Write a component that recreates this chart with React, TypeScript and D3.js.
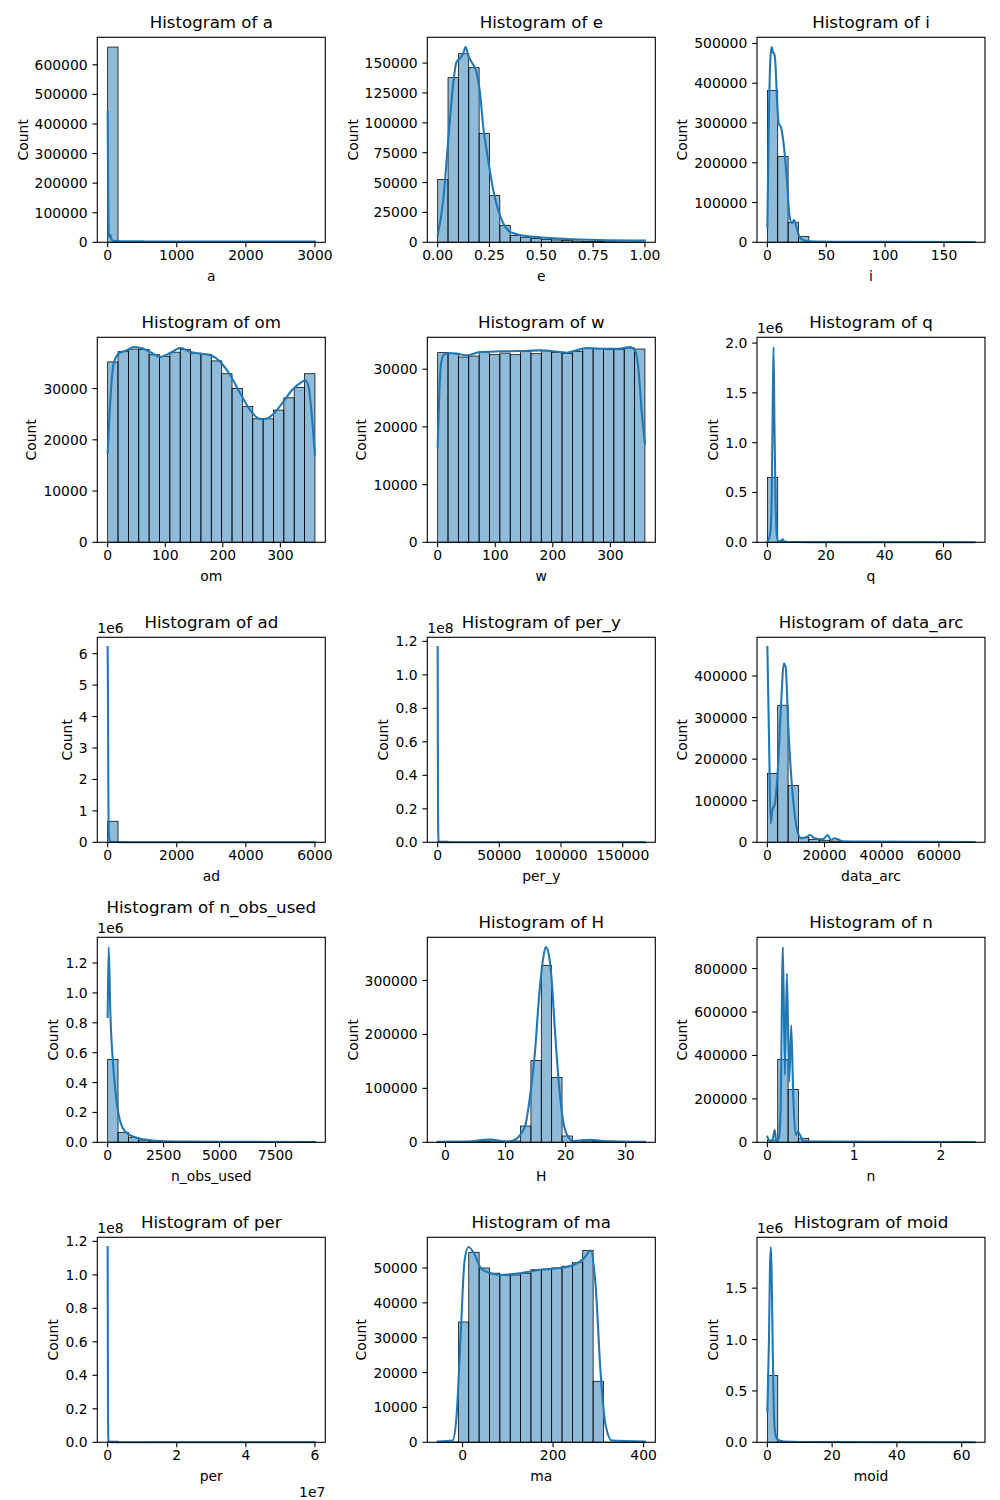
import React from 'react';
import * as d3 from 'd3';

const FONT = "'DejaVu Sans', 'Liberation Sans', sans-serif";
const BLUE = '#1f77b4';

// ---------------- data ----------------
const names = ['a', 'e', 'i', 'om', 'w', 'q', 'ad', 'per_y', 'data_arc', 'n_obs_used', 'H', 'n', 'per', 'ma', 'moid'];

// data ranges (bin range, 20 bins)
const binLo = [0, 0, 0, 0, 0, 0, 0, 0, 0, 0, -1.3, 0, 0, -55, 0];
const binHi = [3000, 1.0, 176, 360, 360, 70.6, 6000, 168000, 72500, 9260, 33.2, 2.39, 6.0e7, 403, 64];

// bar counts
const aCounts = [660000, 1800, 400, 200, 100, 60, 40, 30, 20, 15, 10, 8, 6, 5, 4, 3, 2, 2, 1, 1];
const eCounts = [52600, 137800, 157800, 146100, 91000, 39200, 14200, 5800, 4200, 3100, 2500, 2000, 1500, 1100, 800, 600, 400, 300, 200, 150];
const iCounts = [381900, 216100, 50250, 15000, 1500, 600, 300, 200, 150, 100, 80, 60, 50, 40, 30, 20, 15, 10, 10, 5];
const omCounts = [35200, 37200, 37700, 37600, 36600, 36300, 37100, 37600, 36900, 36700, 35400, 32900, 30000, 26500, 24100, 24100, 25800, 28200, 30200, 32900];
const wCounts = [32870, 32700, 32110, 32280, 32870, 32520, 32800, 32520, 33100, 32690, 33270, 32920, 32750, 33100, 33560, 33560, 33390, 33390, 33680, 33500];
const qCounts = [651000, 5000, 400, 150, 80, 50, 30, 20, 15, 10, 8, 6, 5, 4, 3, 2, 2, 1, 1, 1];
const adCounts = [670000, 1500, 300, 100, 50, 30, 20, 15, 10, 8, 6, 5, 4, 3, 2, 2, 1, 1, 1, 1];
const perYCounts = [662000, 300, 100, 50, 30, 20, 15, 10, 8, 6, 5, 4, 3, 2, 2, 1, 1, 1, 1, 1];
const dataArcCounts = [165700, 329700, 136900, 12000, 7200, 5000, 3000, 2000, 800, 500, 300, 200, 150, 100, 80, 60, 40, 30, 20, 10];
const nObsCounts = [554600, 66800, 33400, 15000, 8000, 4000, 2500, 1500, 1000, 700, 500, 400, 300, 200, 150, 100, 80, 50, 30, 20];
const hCounts = [500, 500, 500, 800, 2000, 2500, 2000, 2500, 30200, 151800, 327800, 120400, 11700, 3000, 2500, 2000, 1000, 500, 300, 200];
const nCounts = [10000, 381600, 243700, 18400, 2000, 800, 500, 300, 200, 150, 100, 80, 60, 50, 40, 30, 20, 10, 10, 5];
const perCounts = [662000, 300, 100, 50, 30, 20, 15, 10, 8, 6, 5, 4, 3, 2, 2, 1, 1, 1, 1, 1];
const maCounts = [50, 100, 34500, 54500, 50000, 48500, 48000, 48000, 48500, 49500, 49500, 50000, 50500, 51500, 55000, 17500, 50, 20, 10, 10];
const moidCounts = [650000, 3000, 300, 100, 50, 30, 20, 15, 10, 8, 6, 5, 4, 3, 2, 2, 1, 1, 1, 1];

// KDE curves (x, count-scaled density)
const aKdeX = [0, 8, 16, 25, 35, 45, 60, 80, 120, 200, 500, 1000, 2000, 3000];
const aKdeY = [440000, 150000, 30000, 18000, 25000, 20000, 8000, 5000, 4000, 3500, 3000, 2800, 2600, 2500];
const eKdeX = [0, 0.027, 0.051, 0.075, 0.091, 0.107, 0.123, 0.135, 0.147, 0.163, 0.187, 0.203, 0.22, 0.244, 0.268, 0.292, 0.316, 0.348, 0.396, 0.492, 0.62, 0.78, 1.0];
const eKdeY = [5800, 35400, 85500, 132800, 151000, 153800, 158000, 163400, 156500, 151000, 142500, 127000, 96500, 68700, 43700, 27000, 15900, 8900, 6100, 4200, 2800, 1900, 1400];
const iKdeX = [0, 1.1, 2.5, 3.6, 4.8, 5.9, 7.0, 8.2, 9.6, 11.5, 14.4, 16.6, 18.6, 20.9, 22.6, 24.6, 27.2, 31.4, 41.3, 60, 100, 176];
const iKdeY = [39300, 273900, 458000, 491000, 478000, 474000, 441000, 357000, 299000, 290000, 232000, 156600, 72900, 47700, 56100, 39300, 14200, 4200, 1700, 1200, 1000, 800];
const omKdeX = [0, 4.6, 10.4, 19.1, 33.6, 45.1, 62.5, 77, 91.4, 108.8, 126.2, 143.5, 160.9, 178.3, 195.6, 213, 230.4, 247.7, 262.2, 270.9, 285.3, 302.7, 320, 337.4, 343.2, 349, 354.8, 360];
const omKdeY = [17460, 27700, 34870, 36820, 37470, 38100, 37790, 36940, 36160, 36940, 37920, 37140, 36820, 36500, 35190, 32600, 29030, 25770, 24160, 24000, 24800, 27080, 29670, 31290, 31620, 30300, 24470, 17000];
const wKdeX = [0, 5.2, 9.8, 18.5, 33, 50.4, 73.5, 108.2, 143, 177.7, 212.4, 224, 247.1, 258.7, 281.9, 316.6, 334, 342.6, 348.4, 354.2, 360];
const wKdeY = [16540, 30380, 32400, 32800, 32700, 32400, 32980, 33100, 33150, 33270, 32980, 32860, 33440, 33670, 33560, 33560, 33840, 33270, 30380, 22890, 17130];
const qKdeX = [0, 0.6, 1.1, 1.5, 1.8, 2.1, 2.4, 2.8, 3.2, 3.6, 4.2, 4.8, 5.2, 5.6, 6.5, 8, 15, 30, 70.6];
const qKdeY = [5000, 40000, 120000, 500000, 1300000, 1960000, 1200000, 400000, 80000, 15000, 10000, 20000, 30000, 12000, 5000, 3000, 2000, 1500, 1000];
const adKdeX = [0, 10, 20, 35, 60, 100, 200, 500, 1500, 6000];
const adKdeY = [6210000, 4500000, 1500000, 300000, 60000, 20000, 8000, 4000, 2000, 1000];
const perYKdeX = [0, 100, 300, 600, 1000, 3000, 168000];
const perYKdeY = [116600000, 80000000, 20000000, 2000000, 300000, 50000, 5000];
const dataArcKdeX = [0, 580, 1160, 1742, 2671, 3716, 4878, 5691, 6388, 7317, 8362, 9523, 10685, 11846, 13588, 14980, 16490, 19395, 21137, 22300, 23460, 24620, 26360, 34490, 72500];
const dataArcKdeY = [469600, 250000, 45600, 77600, 93600, 181500, 341700, 429800, 421600, 277500, 157500, 69600, 21600, 9600, 12000, 17500, 9600, 7200, 17500, 5000, 9600, 7200, 2400, 1600, 800];
const nObsKdeX = [0, 45, 119, 268, 417, 565, 789, 1161, 1607, 2351, 3393, 5000, 9260];
const nObsKdeY = [839000, 1307000, 872000, 471600, 249000, 137600, 70800, 37400, 20000, 8700, 5000, 3000, 2000];
const hKdeX = [-1.3, 3.5, 7.4, 10.2, 11.6, 12.4, 13.3, 14.1, 14.9, 15.6, 16.3, 16.7, 17.2, 17.7, 18.2, 18.9, 19.6, 20.4, 21.3, 24.0, 26.3, 33.2];
const hKdeY = [1100, 1500, 4900, 1500, 5000, 13500, 32000, 87600, 167800, 272800, 343700, 362000, 348100, 297400, 211100, 106100, 38100, 10400, 2500, 4800, 2500, 1000];
const nKdeX = [0, 0.035, 0.065, 0.084, 0.103, 0.133, 0.152, 0.179, 0.202, 0.225, 0.252, 0.275, 0.298, 0.325, 0.352, 0.379, 0.41, 0.56, 2.39];
const nKdeY = [25700, 3000, 18000, 56500, 6000, 18000, 140700, 899000, 309400, 777000, 278600, 539300, 217500, 33600, 48700, 32000, 6000, 3000, 1500];
const perKdeX = [0, 30000, 100000, 200000, 400000, 1000000, 60000000];
const perKdeY = [116600000, 80000000, 20000000, 2000000, 300000, 50000, 5000];
const maKdeX = [-55, -22, -13, -4.4, 4.4, 13, 26, 40, 62, 84, 127, 171, 215, 248, 270, 283, 294, 305, 316, 330, 403];
const maKdeY = [200, 500, 8000, 30000, 52000, 56000, 54000, 50000, 48500, 48000, 48500, 49500, 50000, 51000, 53000, 55000, 45000, 20000, 5000, 500, 200];
const moidKdeX = [0, 0.5, 0.8, 1.1, 1.4, 1.8, 2.2, 3, 5, 10, 64];
const moidKdeY = [300000, 1000000, 1700000, 1900000, 1500000, 600000, 150000, 30000, 8000, 3000, 1000];

// tick labels
const aXTicks = [0, 1000, 2000, 3000];
const eXTicks = [0, 0.25, 0.5, 0.75, 1.0];
const iXTicks = [0, 50, 100, 150];
const omXTicks = [0, 100, 200, 300];
const wXTicks = [0, 100, 200, 300];
const qXTicks = [0, 20, 40, 60];
const adXTicks = [0, 2000, 4000, 6000];
const perYXTicks = [0, 50000, 100000, 150000];
const dataArcXTicks = [0, 20000, 40000, 60000];
const nObsXTicks = [0, 2500, 5000, 7500];
const hXTicks = [0, 10, 20, 30];
const nXTicks = [0, 1, 2];
const perXTicks = [0, 2, 4, 6];
const maXTicks = [0, 200, 400];
const moidXTicks = [0, 20, 40, 60];

const aYTicks = [0, 100000, 200000, 300000, 400000, 500000, 600000];
const eYTicks = [0, 25000, 50000, 75000, 100000, 125000, 150000];
const iYTicks = [0, 100000, 200000, 300000, 400000, 500000];
const omYTicks = [0, 10000, 20000, 30000];
const wYTicks = [0, 10000, 20000, 30000];
const qYTicks = [0, 0.5, 1.0, 1.5, 2.0];
const adYTicks = [0, 1, 2, 3, 4, 5, 6];
const perYYTicks = [0, 0.2, 0.4, 0.6, 0.8, 1.0, 1.2];
const dataArcYTicks = [0, 100000, 200000, 300000, 400000];
const nObsYTicks = [0, 0.2, 0.4, 0.6, 0.8, 1.0, 1.2];
const hYTicks = [0, 100000, 200000, 300000];
const nYTicks = [0, 200000, 400000, 600000, 800000];
const perYTicks = [0, 0.2, 0.4, 0.6, 0.8, 1.0, 1.2];
const maYTicks = [0, 10000, 20000, 30000, 40000, 50000];
const moidYTicks = [0, 0.5, 1.0, 1.5, 2.0];

// ---------------- panel table ----------------
type Panel = {
  name: string; lo: number; hi: number; counts: number[]; kx: number[]; ky: number[];
  xt: number[]; yt: number[]; xMul: number; yMul: number; xDec: number; yDec: number;
  xExp: string; yExp: string; titleLift?: boolean;
};

const countsList = [aCounts, eCounts, iCounts, omCounts, wCounts, qCounts, adCounts, perYCounts, dataArcCounts, nObsCounts, hCounts, nCounts, perCounts, maCounts, moidCounts];
const kdeXList = [aKdeX, eKdeX, iKdeX, omKdeX, wKdeX, qKdeX, adKdeX, perYKdeX, dataArcKdeX, nObsKdeX, hKdeX, nKdeX, perKdeX, maKdeX, moidKdeX];
const kdeYList = [aKdeY, eKdeY, iKdeY, omKdeY, wKdeY, qKdeY, adKdeY, perYKdeY, dataArcKdeY, nObsKdeY, hKdeY, nKdeY, perKdeY, maKdeY, moidKdeY];
const xTickList = [aXTicks, eXTicks, iXTicks, omXTicks, wXTicks, qXTicks, adXTicks, perYXTicks, dataArcXTicks, nObsXTicks, hXTicks, nXTicks, perXTicks, maXTicks, moidXTicks];
const yTickList = [aYTicks, eYTicks, iYTicks, omYTicks, wYTicks, qYTicks, adYTicks, perYYTicks, dataArcYTicks, nObsYTicks, hYTicks, nYTicks, perYTicks, maYTicks, moidYTicks];
const yMulList = [1, 1, 1, 1, 1, 1e6, 1e6, 1e8, 1, 1e6, 1, 1, 1e8, 1, 1e6];
const yDecList = [0, 0, 0, 0, 0, 1, 0, 1, 0, 1, 0, 0, 1, 0, 1];
const yExpList = ['', '', '', '', '', '1e6', '1e6', '1e8', '', '1e6', '', '', '1e8', '', '1e6'];
const xMulList = [1, 1, 1, 1, 1, 1, 1, 1, 1, 1, 1, 1, 1e7, 1, 1];
const xDecList = [0, 2, 0, 0, 0, 0, 0, 0, 0, 0, 0, 0, 0, 0, 0];
const xExpList = ['', '', '', '', '', '', '', '', '', '', '', '', '1e7', '', ''];

const panels: Panel[] = names.map((name, k) => ({
  name, lo: binLo[k], hi: binHi[k], counts: countsList[k], kx: kdeXList[k], ky: kdeYList[k],
  xt: xTickList[k], yt: yTickList[k], xMul: xMulList[k], yMul: yMulList[k],
  xDec: xDecList[k], yDec: yDecList[k], xExp: xExpList[k], yExp: yExpList[k],
  titleLift: name === 'n_obs_used',
}));

// ---------------- layout ----------------
const COL_LEFT = [97.3, 427.3, 757.0];
const ROW_TOP0 = 37.3;
const ROW_STEP = 300;
const AXW = 228;
const AXH = 205;
const TICK_FS = 13.9;
const TITLE_FS = 16.67;
const TICK_LEN = 4.86;
const TICK_PAD = 4.86;

function textWidth(s: string) {
  let w = 0;
  for (const c of s) {
    if (c === '.') w += 0.318;
    else if (c === '−' || c === '-') w += 0.838;
    else w += 0.636;
  }
  return w * TICK_FS;
}

function fmt(v: number, dec: number) {
  const s = v.toFixed(dec);
  return s.startsWith('-') ? '−' + s.slice(1) : s;
}

function PanelView({ p, idx }: { p: Panel; idx: number }) {
  const col = idx % 3;
  const row = Math.floor(idx / 3);
  const left = COL_LEFT[col];
  const top = ROW_TOP0 + row * ROW_STEP;
  const right = left + AXW;
  const bottom = top + AXH;

  const n = p.counts.length;
  const bw = (p.hi - p.lo) / n;
  const xMin = Math.min(p.lo, d3.min(p.kx) as number);
  const xMax = Math.max(p.hi, d3.max(p.kx) as number);
  const pad = (xMax - xMin) * 0.05;
  const x = d3.scaleLinear().domain([xMin - pad, xMax + pad]).range([left, right]);
  const yMaxData = Math.max(d3.max(p.counts) as number, d3.max(p.ky) as number);
  const y = d3.scaleLinear().domain([0, yMaxData * 1.05]).range([bottom, top]);

  const pts: [number, number][] = p.kx.map((v, i) => [v, p.ky[i]]);
  const line = d3.line<[number, number]>().x(d => x(d[0])).y(d => y(d[1])).curve(d3.curveMonotoneX);

  const [x0d, x1d] = x.domain();
  const [y0d, y1d] = y.domain();
  const xt = p.xt.filter(v => v * p.xMul >= x0d - 1e-9 && v * p.xMul <= x1d + 1e-9);
  const yt = p.yt.filter(v => v * p.yMul >= y0d - 1e-9 && v * p.yMul <= y1d + 1e-9);
  const yLabels = yt.map(v => fmt(v, p.yDec));
  const maxW = d3.max(yLabels.map(textWidth)) as number;
  const labelLeft = left - TICK_LEN - TICK_PAD - maxW;

  return (
    <g>
      {/* bars */}
      {p.counts.map((c, i) => {
        const a = p.lo + i * bw;
        const b = a + bw;
        const yy = y(c);
        return (
          <rect key={i} x={x(a)} y={yy} width={x(b) - x(a)} height={Math.max(0, bottom - yy)}
            fill={BLUE} fillOpacity={0.5} stroke="#000" strokeWidth={0.75} />
        );
      })}
      {/* kde */}
      <path d={line(pts) || ''} fill="none" stroke={BLUE} strokeWidth={2.08} strokeLinejoin="round" strokeLinecap="square" />
      {/* spines */}
      <rect x={left} y={top} width={AXW} height={AXH} fill="none" stroke="#000" strokeWidth={1.1} />
      {/* x ticks */}
      {xt.map((v, i) => (
        <g key={'xt' + i}>
          <line x1={x(v * p.xMul)} x2={x(v * p.xMul)} y1={bottom} y2={bottom + TICK_LEN} stroke="#000" strokeWidth={1.1} />
          <text x={x(v * p.xMul)} y={bottom + 18} fontSize={TICK_FS} textAnchor="middle" fill="#000">{fmt(v, p.xDec)}</text>
        </g>
      ))}
      {/* y ticks */}
      {yt.map((v, i) => (
        <g key={'yt' + i}>
          <line x1={left - TICK_LEN} x2={left} y1={y(v * p.yMul)} y2={y(v * p.yMul)} stroke="#000" strokeWidth={1.1} />
          <text x={left - TICK_LEN - TICK_PAD} y={y(v * p.yMul)} dy="0.36em" fontSize={TICK_FS} textAnchor="end" fill="#000">{yLabels[i]}</text>
        </g>
      ))}
      {/* offset texts */}
      {p.yExp && (
        <text x={left} y={top - 4.3} fontSize={TICK_FS} textAnchor="start" fill="#000">{p.yExp}</text>
      )}
      {p.xExp && (
        <text x={right} y={bottom + 55} fontSize={TICK_FS} textAnchor="end" fill="#000">{p.xExp}</text>
      )}
      {/* axis labels */}
      <text x={(left + right) / 2} y={bottom + 38.6} fontSize={TICK_FS} textAnchor="middle" fill="#000">{p.name}</text>
      <text transform={`translate(${labelLeft - 7},${(top + bottom) / 2}) rotate(-90)`} fontSize={TICK_FS} textAnchor="middle" fill="#000">Count</text>
      {/* title */}
      <text x={(left + right) / 2} y={top - (p.titleLift ? 24.5 : 9)} fontSize={TITLE_FS} textAnchor="middle" fill="#000">{`Histogram of ${p.name}`}</text>
    </g>
  );
}

export default function App() {
  return (
    <svg width={1000} height={1500} style={{ position: 'absolute', left: 0, top: 0, display: 'block' }} fontFamily={FONT}>
      <rect x={0} y={0} width={1000} height={1500} fill="#fff" />
      {panels.map((p, idx) => <PanelView key={p.name} p={p} idx={idx} />)}
    </svg>
  );
}
